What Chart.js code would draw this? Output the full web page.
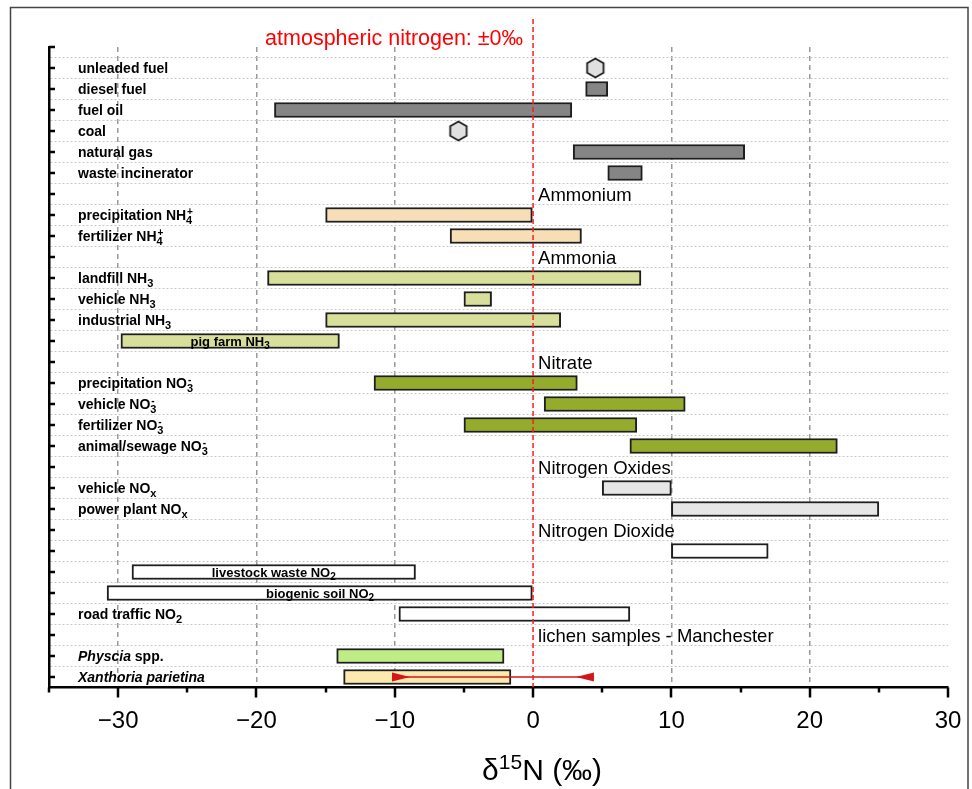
<!DOCTYPE html>
<html>
<head>
<meta charset="utf-8">
<title>d15N sources</title>
<script src="https://cdn.jsdelivr.net/npm/chart.js@4.4.1/dist/chart.umd.min.js"></script>
<style>
  html, body { margin: 0; padding: 0; background: #fff; }
  #wrap { width: 972px; height: 789px; }
</style>
</head>
<body>
<div id="wrap"><canvas id="myChart" width="972" height="789"></canvas></div>
<script>
// row labels, top to bottom (empty = header row or no label)
const rowLabels = [
    'unleaded fuel', 'diesel fuel', 'fuel oil', 'coal', 'natural gas', 'waste incinerator', '',
    'precipitation NH_{4}^{+}', 'fertilizer NH_{4}^{+}', '',
    'landfill NH_{3}', 'vehicle NH_{3}', 'industrial NH_{3}', 'pig farm NH_{3}', '',
    'precipitation NO_{3}^{-}', 'vehicle NO_{3}^{-}', 'fertilizer NO_{3}^{-}', 'animal/sewage NO_{3}^{-}', '',
    'vehicle NO_{x}', 'power plant NO_{x}', '',
    '', 'livestock waste NO_{2}', 'biogenic soil NO_{2}', 'road traffic NO_{2}', '',
    '*Physcia* spp.', '*Xanthoria parietina*'
];
const insideLabelRows = [14, 25, 26];

const sectionNames = ['Ammonium', 'Ammonia', 'Nitrate', 'Nitrogen Oxides', 'Nitrogen Dioxide', 'lichen samples - Manchester'];
const sectionRows = [7, 10, 15, 20, 23, 28];

// ranges (δ15N ‰)
const fuelRows = [2, 3, 5, 6];
const fuelLow = [3.8, -18.7, 2.9, 5.4];
const fuelHigh = [5.4, 2.8, 15.3, 7.9];

const fuelPointRows = [1, 4];
const fuelPointValues = [4.5, -5.4];

const ammoniumRows = [8, 9];
const ammoniumLow = [-15, -6];
const ammoniumHigh = [0, 3.5];

const ammoniaRows = [11, 12, 13, 14];
const ammoniaLow = [-19.2, -5, -15, -29.8];
const ammoniaHigh = [7.8, -3, 2, -14];

const nitrateRows = [16, 17, 18, 19];
const nitrateLow = [-11.5, 0.8, -5, 7];
const nitrateHigh = [3.2, 11, 7.5, 22];

const noxRows = [21, 22];
const noxLow = [5, 10];
const noxHigh = [10, 25];

const no2Rows = [24, 25, 26, 27];
const no2Low = [10, -29, -30.8, -9.7];
const no2High = [17, -8.5, 0, 7];

const lichenRows = [29, 30];
const lichenLow = [-14.2, -13.7];
const lichenHigh = [-2.1, -1.6];

const lichenRangeRow = 30;
const lichenRange = [-10.2, 4.4];

const atmosphericN = 0;
const xTickValues = [-35, -30, -25, -20, -15, -10, -5, 0, 5, 10, 15, 20, 25, 30];
const xGridValues = [-30, -20, -10, 10, 20];

const FONT = "'Liberation Sans', Arial, sans-serif";

function barData(rows, lows, highs) {
    return rows.map((r, i) => ({ y: r, x: [lows[i], highs[i]] }));
}

function barSet(label, rows, lows, highs, color) {
    return {
        label: label,
        data: barData(rows, lows, highs),
        backgroundColor: color,
        borderColor: '#1e1e1e',
        borderWidth: 2,
        borderSkipped: false,
        barThickness: 15,
        grouped: false,
        order: 2
    };
}

// point images
function makeHex() {
    const c = document.createElement('canvas');
    c.width = 22; c.height = 24;
    const g = c.getContext('2d');
    const r = 9.5;
    g.beginPath();
    for (let k = 0; k < 6; k++) {
        const a = -Math.PI / 2 + k * Math.PI / 3;
        const px = 11 + r * Math.cos(a), py = 12 + r * Math.sin(a);
        if (k === 0) g.moveTo(px, py); else g.lineTo(px, py);
    }
    g.closePath();
    g.fillStyle = '#e0e0e0';
    g.fill();
    g.lineWidth = 1.8;
    g.strokeStyle = '#1e1e1e';
    g.stroke();
    return c;
}

function makeArrow(dir) {
    const c = document.createElement('canvas');
    c.width = 40; c.height = 12;
    const g = c.getContext('2d');
    g.beginPath();
    g.moveTo(20, 1.5);
    g.lineTo(20 + dir * 18, 6);
    g.lineTo(20, 10.5);
    g.closePath();
    g.fillStyle = '#d4161b';
    g.fill();
    return c;
}

// text with *italic*, _{sub} and ^{sup}
function richParts(str) {
    const parts = [];
    let italic = false;
    str.split(/(\*|_\{[^}]*\}|\^\{[^}]*\})/).forEach(tok => {
        if (!tok) return;
        if (tok === '*') { italic = !italic; return; }
        if (tok.startsWith('_{')) parts.push({ text: tok.slice(2, -1), mode: 'sub', italic });
        else if (tok.startsWith('^{')) parts.push({ text: tok.slice(2, -1), mode: 'sup', italic });
        else parts.push({ text: tok, mode: 'n', italic });
    });
    return parts;
}

function drawRich(ctx, str, x, y, size, opts) {
    const weight = opts.weight || 'normal';
    const pieces = [];
    let pen = 0, subStart = 0, prev = 'n';
    richParts(str).forEach(p => {
        const s = p.mode === 'n' ? size : Math.round(size * (p.mode === 'sub' ? 0.78 : 0.7));
        const font = (p.italic ? 'italic ' : '') + weight + ' ' + s + 'px ' + FONT;
        ctx.font = font;
        const w = ctx.measureText(p.text).width;
        let dx = pen, dy = 0;
        if (p.mode === 'sub') { dy = size * 0.3; subStart = pen; }
        else if (p.mode === 'sup') { dy = -size * 0.38; if (prev === 'sub') dx = subStart + 1; }
        pieces.push({ text: p.text, font, dx, dy });
        pen = Math.max(pen, dx + w);
        prev = p.mode;
    });
    const start = opts.align === 'center' ? x - pen / 2 : (opts.align === 'right' ? x - pen : x);
    ctx.save();
    ctx.fillStyle = opts.color || '#000';
    ctx.textAlign = 'left';
    ctx.textBaseline = 'alphabetic';
    pieces.forEach(pc => { ctx.font = pc.font; ctx.fillText(pc.text, start + pc.dx, y + pc.dy); });
    ctx.restore();
}

const decor = {
    id: 'decor',
    afterDatasetsDraw(chart) {
        const ctx = chart.ctx;
        const xs = chart.scales.x, ys = chart.scales.y;
        const area = chart.chartArea;
        const x0 = xs.getPixelForValue(atmosphericN);

        // atmospheric nitrogen line + label
        ctx.save();
        ctx.strokeStyle = '#ff1a1a';
        ctx.lineWidth = 1.5;
        ctx.setLineDash([5, 3]);
        ctx.beginPath();
        ctx.moveTo(x0, 19);
        ctx.lineTo(x0, area.bottom);
        ctx.stroke();
        ctx.restore();
        drawRich(ctx, 'atmospheric nitrogen: ±0‰', x0 - 10, 45, 21.5, { align: 'right', color: '#ff0000' });

        // row labels
        rowLabels.forEach((lab, i) => {
            if (!lab) return;
            const row = i + 1;
            const yp = ys.getPixelForValue(row);
            if (insideLabelRows.includes(row)) {
                const ds = chart.data.datasets.find(d => d.data.some(p => p.y === row && Array.isArray(p.x)));
                const pt = ds.data.find(p => p.y === row);
                const xc = (xs.getPixelForValue(pt.x[0]) + xs.getPixelForValue(pt.x[1])) / 2;
                drawRich(ctx, lab, xc, yp + 4.5, 13, { weight: 'bold', align: 'center' });
            } else {
                drawRich(ctx, lab, area.left + 29, yp + 5, 14, { weight: 'bold' });
            }
        });

        // section headers
        sectionNames.forEach((name, i) => {
            const yp = ys.getPixelForValue(sectionRows[i]);
            drawRich(ctx, name, x0 + 5, yp + 6.5, 18.5, {});
        });

        // tick marks
        ctx.save();
        ctx.strokeStyle = '#000';
        ctx.lineWidth = 2.5;
        ctx.beginPath();
        for (let v = 0; v <= rowLabels.length; v++) {
            const yp = Math.round(ys.getPixelForValue(v));
            ctx.moveTo(area.left, yp);
            ctx.lineTo(area.left + 6, yp);
        }
        xTickValues.forEach(v => {
            const xp = Math.round(xs.getPixelForValue(v));
            ctx.moveTo(xp, area.bottom);
            ctx.lineTo(xp, area.bottom + (v % 10 === 0 ? 10 : 5));
        });
        ctx.stroke();
        ctx.restore();

        // axis title
        drawRich(ctx, 'δ^{15}N (‰)', x0 - 51, 780, 30, {});

        // frame
        ctx.save();
        ctx.strokeStyle = '#444';
        ctx.lineWidth = 1.5;
        ctx.strokeRect(10.5, 7.5, 957.5, 792);
        ctx.restore();
    }
};

const hexImg = makeHex();
const arrowRight = makeArrow(1);
const arrowLeft = makeArrow(-1);

new Chart(document.getElementById('myChart').getContext('2d'), {
    type: 'bar',
    data: {
        datasets: [
            barSet('fuel', fuelRows, fuelLow, fuelHigh, '#858585'),
            barSet('ammonium', ammoniumRows, ammoniumLow, ammoniumHigh, '#f8deb6'),
            barSet('ammonia', ammoniaRows, ammoniaLow, ammoniaHigh, '#d8df9a'),
            barSet('nitrate', nitrateRows, nitrateLow, nitrateHigh, '#95ab2b'),
            barSet('nox', noxRows, noxLow, noxHigh, '#e6e6e6'),
            barSet('no2', no2Rows, no2Low, no2High, '#ffffff'),
            barSet('lichen', lichenRows, lichenLow, lichenHigh, ['#c0ec86', '#fde9ae']),
            {
                type: 'line',
                label: 'fuel points',
                data: fuelPointRows.map((r, i) => ({ x: fuelPointValues[i], y: r })),
                showLine: false,
                pointStyle: hexImg,
                order: 1
            },
            {
                type: 'line',
                label: 'lichen range',
                data: lichenRange.map(v => ({ x: v, y: lichenRangeRow })),
                borderColor: '#d4161b',
                borderWidth: 1.5,
                pointStyle: [arrowRight, arrowLeft],
                order: 0
            }
        ]
    },
    options: {
        indexAxis: 'y',
        responsive: false,
        animation: false,
        layout: { padding: { top: 47, right: 24, left: 0, bottom: 0 } },
        plugins: {
            legend: { display: false },
            tooltip: { enabled: false }
        },
        scales: {
            x: {
                type: 'linear',
                min: -35,
                max: 30,
                afterBuildTicks: (s) => { s.ticks = xTickValues.map(v => ({ value: v })); },
                afterFit: (s) => { s.height = 101.5; s.paddingLeft = 0; s.paddingRight = 0; },
                ticks: {
                    autoSkip: false,
                    maxRotation: 0,
                    padding: 19,
                    color: '#000',
                    font: { size: 24, family: FONT },
                    callback: (v) => v % 10 === 0 ? (v < 0 ? '−' + Math.abs(v) : String(v)) : ''
                },
                grid: {
                    drawTicks: false,
                    lineWidth: 1.5,
                    color: (c) => xGridValues.includes(c.tick.value) ? '#9a9a9a' : 'rgba(0,0,0,0)'
                },
                border: { display: true, color: '#000', width: 2.5, dash: [5, 4] }
            },
            y: {
                type: 'linear',
                min: 0,
                max: rowLabels.length + 0.5,
                reverse: true,
                offset: false,
                afterBuildTicks: (s) => { s.ticks = rowLabels.map((_, i) => ({ value: i + 0.5 })); },
                afterFit: (s) => { s.width = 49; },
                ticks: { display: false },
                grid: { drawTicks: false, offset: false, color: '#c8c8c8', lineWidth: 1 },
                border: { display: true, color: '#000', width: 2.5, dash: [2, 2] }
            }
        }
    },
    plugins: [decor]
});
</script>
</body>
</html>
